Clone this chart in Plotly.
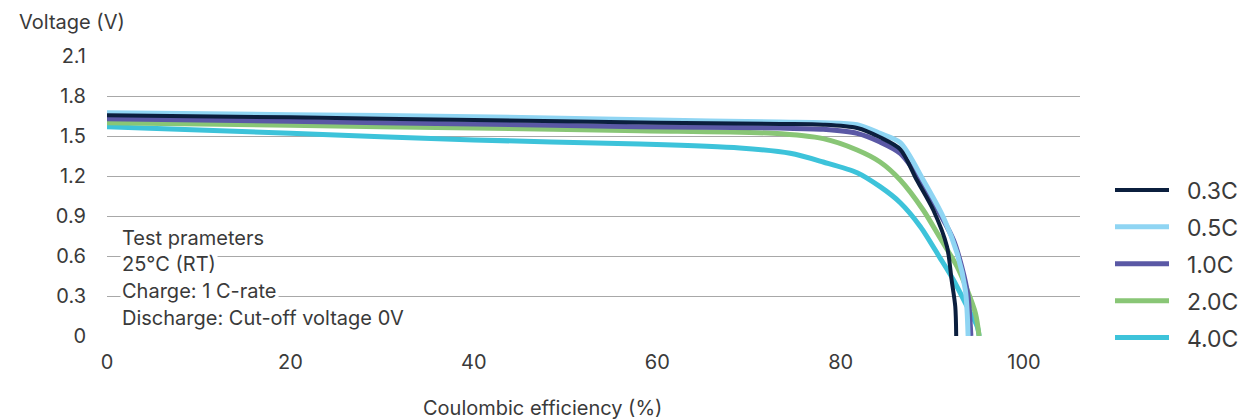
import plotly.graph_objects as go

# Discharge curves: coulombic efficiency (%) vs voltage (V) for each C-rate
rates = ["0.3C", "0.5C", "1.0C", "2.0C", "4.0C"]
colors = ["#0b1f3e", "#8fd5f3", "#5a58a5", "#89c676", "#3dc3da"]
widths = [4, 5, 5, 5, 5]

eff_03 = [0, 20, 40, 60, 73.4, 78.1, 81.8, 84.3, 86.5, 88.3, 90.1, 91.6, 92.1, 92.5, 92.6]
v_03 = [1.655, 1.64, 1.62, 1.60, 1.59, 1.585, 1.56, 1.49, 1.40, 1.17, 0.945, 0.67, 0.42, 0.22, 0.0]

eff_05 = [0, 20, 40, 60, 73.4, 78.1, 81.8, 84.3, 86.5, 89.0, 91.2, 92.7, 93.6, 93.8, 93.9]
v_05 = [1.675, 1.66, 1.645, 1.62, 1.605, 1.60, 1.585, 1.52, 1.45, 1.17, 0.89, 0.62, 0.345, 0.17, 0.0]

eff_10 = [0, 20, 40, 58, 73.4, 78.1, 81.8, 84.3, 86.5, 88.7, 90.8, 92.3, 93.2, 93.9, 94.1, 94.2]
v_10 = [1.63, 1.61, 1.59, 1.57, 1.56, 1.55, 1.52, 1.455, 1.37, 1.17, 0.92, 0.72, 0.52, 0.295, 0.12, 0.0]

eff_20 = [0, 20, 40, 58, 72.6, 78.1, 81.8, 84.3, 86.5, 89.0, 90.8, 92.7, 93.8, 94.7, 95.1]
v_20 = [1.60, 1.58, 1.56, 1.54, 1.52, 1.48, 1.395, 1.305, 1.17, 0.945, 0.74, 0.52, 0.345, 0.17, 0.0]

eff_40 = [0, 20, 40, 58.1, 69, 74.5, 78.1, 81.8, 84.3, 86.5, 88.7, 90.8, 92.3, 93.8, 94.9, 95.1]
v_40 = [1.57, 1.52, 1.47, 1.44, 1.41, 1.37, 1.305, 1.225, 1.12, 1.0, 0.82, 0.59, 0.42, 0.22, 0.07, 0.0]

x_ticks = [0, 20, 40, 60, 80, 100]
y_ticks = [0, 0.3, 0.6, 0.9, 1.2, 1.5, 1.8, 2.1]
y_tick_text = ["0", "0.3", "0.6", "0.9", "1.2", "1.5", "1.8", "2.1"]

notes = ["Test prameters", "25°C (RT)", "Charge: 1 C-rate", "Discharge: Cut-off voltage 0V"]
note_y = [0.735, 0.54, 0.335, 0.135]

FONT = "Inter, Lato, sans-serif"
TEXT = "#3a3a3a"
PAD = "\u00a0\u00a0"

series = [(eff_03, v_03), (eff_05, v_05), (eff_10, v_10), (eff_20, v_20), (eff_40, v_40)]

fig = go.Figure()
# draw 4.0C at the back and 0.3C on top
for i in [4, 3, 2, 1, 0]:
    x, y = series[i]
    fig.add_trace(go.Scatter(
        x=x, y=y, mode="lines", name=PAD + rates[i],
        line=dict(color=colors[i], width=widths[i], shape="spline", smoothing=0.8),
        legendrank=i + 1, legendgroup=rates[i],
    ))

for txt, yy in zip(notes, note_y):
    fig.add_annotation(
        x=1.4, y=yy, xref="x", yref="y", text=txt, showarrow=False,
        xanchor="left", yanchor="middle", align="left",
        bgcolor="white", borderpad=1,
        font=dict(family=FONT, size=20, color=TEXT),
    )

fig.add_annotation(
    x=(17 - 107) / 973, y=1 + (56 - 22) / 280, xref="paper", yref="paper",
    text="Voltage (V)", showarrow=False, xanchor="left", yanchor="middle",
    font=dict(family=FONT, size=20, color=TEXT),
)

fig.add_annotation(
    x=(542 - 107) / 973, y=-(408 - 336) / 280, xref="paper", yref="paper",
    text="Coulombic efficiency (%)", showarrow=False,
    xanchor="center", yanchor="middle",
    font=dict(family=FONT, size=20, color=TEXT),
)

fig.update_xaxes(
    range=[0, 106.1], tickvals=x_ticks, showgrid=False, zeroline=False,
    showline=False, ticks="", ticklabelstandoff=12,
    tickfont=dict(family=FONT, size=20, color=TEXT),
)
fig.update_yaxes(
    range=[0, 2.1], tickvals=y_ticks, ticktext=y_tick_text,
    showgrid=True, gridcolor="#a8a8a8", gridwidth=1,
    zeroline=False, showline=False, ticks="", ticklabelstandoff=20,
    tickfont=dict(family=FONT, size=20, color=TEXT),
)

fig.update_layout(
    width=1242, height=420,
    margin=dict(l=107, r=162, t=56, b=84, autoexpand=False),
    paper_bgcolor="white", plot_bgcolor="white",
    showlegend=True,
    legend=dict(
        x=(1110 - 107) / 973, xanchor="left", y=(336 - 264) / 280, yanchor="middle",
        font=dict(family=FONT, size=23, color=TEXT),
        itemwidth=54, tracegroupgap=4, traceorder="grouped",
        bgcolor="rgba(0,0,0,0)",
    ),
)

fig.write_html("out.html")
